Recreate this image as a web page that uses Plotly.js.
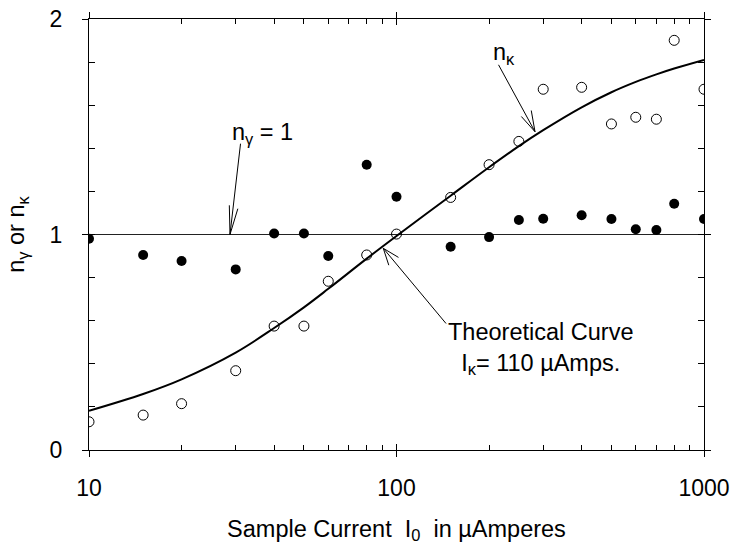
<!DOCTYPE html>
<html>
<head>
<meta charset="utf-8">
<script src="https://cdn.plot.ly/plotly-3.0.1.min.js"></script>
<style>html,body{margin:0;padding:0;background:#fff;}#chart{width:731px;height:549px;}</style>
</head>
<body>
<div id="chart"></div>
<script>
// Sample current (µA)
const sampleCurrent = [10, 15, 20, 30, 40, 50, 60, 80, 100, 150, 200, 250, 300, 400, 500, 600, 700, 800, 1000];
// n_gamma measurements (filled circles)
const nGamma = [0.98, 0.905, 0.877, 0.838, 1.005, 1.005, 0.90, 1.324, 1.175, 0.943, 0.988, 1.067, 1.073, 1.089, 1.072, 1.024, 1.021, 1.143, 1.072];
// n_kappa measurements (open circles)
const nKappa = [0.131, 0.162, 0.215, 0.368, 0.575, 0.575, 0.783, 0.905, 1.002, 1.172, 1.324, 1.432, 1.674, 1.683, 1.513, 1.544, 1.535, 1.901, 1.674];
// Theoretical curve
const curveI = [10, 15, 20, 30, 40, 50, 60, 80, 100, 150, 200, 250, 300, 400, 500, 600, 700, 800, 1000];
const curveN = [0.182, 0.26, 0.328, 0.452, 0.566, 0.662, 0.748, 0.888, 0.993, 1.18, 1.312, 1.41, 1.484, 1.59, 1.66, 1.708, 1.743, 1.77, 1.81];
// n_gamma = 1 reference line
const refI = [10, 1000];
const refN = [1, 1];
// ticks
const xMajorTicks = [10, 100, 1000];
const xMajorLabels = ['10', '100', '1000'];
const xMinorTicks = [20, 30, 40, 50, 60, 70, 80, 90, 200, 300, 400, 500, 600, 700, 800, 900];
const yMajorTicks = [0, 1, 2];
const yMajorLabels = ['0', '1', '2'];
const yMinorTicks = [0.2, 0.4, 0.6, 0.8, 1.2, 1.4, 1.6, 1.8];

const FONT = 'Liberation Sans, Arial, Helvetica, sans-serif';
const TXT = 23.5;

const traces = [
  {x: refI, y: refN, mode: 'lines', line: {color: '#222', width: 1}, hoverinfo: 'skip', showlegend: false},
  {x: curveI, y: curveN, mode: 'lines', line: {color: '#000', width: 2, shape: 'spline', smoothing: 1}, showlegend: false},
  {x: sampleCurrent, y: nGamma, mode: 'markers', marker: {symbol: 'circle', size: 10, color: '#000'}, showlegend: false},
  {x: sampleCurrent, y: nKappa, mode: 'markers', marker: {symbol: 'circle-open', size: 10, color: '#000', line: {width: 1, color: '#000'}}, showlegend: false},
  {x: [], y: [], xaxis: 'x2', yaxis: 'y2', showlegend: false}
];

function arrowAnn(x, y, ax, ay) {
  return {x: x, y: y, ax: ax, ay: ay, text: '', showarrow: true, arrowhead: 0, arrowwidth: 1, arrowcolor: '#000', standoff: 0, startstandoff: 0};
}

const annotations = [
  {x: 1.565, y: 1.47, text: 'n<sub>γ</sub> = 1', showarrow: false, xanchor: 'center', yanchor: 'middle', font: {family: FONT, size: TXT, color: '#000'}},
  {x: 2.3496, y: 1.838, text: 'n<sub>κ</sub>', showarrow: false, xanchor: 'center', yanchor: 'middle', font: {family: FONT, size: TXT, color: '#000'}},
  {x: 2.4667, y: 0.47, text: 'Theoretical Curve<br>I<sub>κ</sub>= 110 µAmps.', showarrow: false, xanchor: 'center', yanchor: 'middle', align: 'center', font: {family: FONT, size: TXT, color: '#000'}},
  arrowAnn(1.4585, 1.0, 10.7, -92.3),
  arrowAnn(1.4585, 1.0, -0.7, -30.7),
  arrowAnn(1.4585, 1.0, 8.3, -27.3),
  arrowAnn(2.4504, 1.477, -37.3, -68.4),
  arrowAnn(2.4504, 1.477, -15, -16.7),
  arrowAnn(2.4504, 1.477, -4, -22.7),
  arrowAnn(1.957, 0.936, 64, 76.7),
  arrowAnn(1.957, 0.936, 16.7, 10),
  arrowAnn(1.957, 0.936, 6, 18.4)
];

const layout = {
  width: 731, height: 549,
  margin: {l: 89, r: 27, t: 19, b: 99},
  paper_bgcolor: '#fff', plot_bgcolor: '#fff',
  font: {family: FONT, size: 23, color: '#000'},
  showlegend: false,
  xaxis: {
    type: 'log', range: [1, 3], tickmode: 'array', tickvals: xMajorTicks, ticktext: xMajorLabels,
    ticks: 'outside', ticklen: 6, tickwidth: 1, tickcolor: '#000',
    showline: true, linecolor: '#000', linewidth: 1, mirror: 'ticks',
    showgrid: false, zeroline: false, ticklabelstandoff: 11,
    tickfont: {family: FONT, size: 23, color: '#000'},
    minor: {tickmode: 'array', tickvals: xMinorTicks, ticks: 'inside', ticklen: 5, tickwidth: 1, tickcolor: '#000', showgrid: false},
    title: {text: 'Sample Current \u00a0I<sub>0</sub> \u00a0in µAmperes', font: {family: FONT, size: TXT, color: '#000'}, standoff: 20},
    automargin: false
  },
  yaxis: {
    range: [0, 2], tickmode: 'array', tickvals: yMajorTicks, ticktext: yMajorLabels,
    ticks: 'outside', ticklen: 6, tickwidth: 1, tickcolor: '#000',
    showline: true, linecolor: '#000', linewidth: 1, mirror: 'ticks',
    showgrid: false, zeroline: false, ticklabelstandoff: 15,
    tickfont: {family: FONT, size: 23, color: '#000'},
    minor: {tickmode: 'array', tickvals: yMinorTicks, ticks: 'inside', ticklen: 6, tickwidth: 1, tickcolor: '#000', showgrid: false},
    title: {text: 'n<sub>γ</sub> or n<sub>κ</sub>', font: {family: FONT, size: TXT, color: '#000'}, standoff: 18},
    automargin: false
  },
  xaxis2: {
    type: 'log', range: [1, 3], overlaying: 'x', matches: 'x', tickmode: 'array', tickvals: xMajorTicks,
    ticks: 'inside', ticklen: 6, tickwidth: 1, tickcolor: '#000', showticklabels: false,
    showline: true, linecolor: '#000', linewidth: 1, mirror: 'ticks', showgrid: false, zeroline: false
  },
  yaxis2: {
    range: [0, 2], overlaying: 'y', matches: 'y', tickmode: 'array', tickvals: yMajorTicks,
    ticks: 'inside', ticklen: 6, tickwidth: 1, tickcolor: '#000', showticklabels: false,
    showline: true, linecolor: '#000', linewidth: 1, mirror: 'ticks', showgrid: false, zeroline: false
  },
  annotations: annotations
};

Plotly.newPlot('chart', traces, layout, {staticPlot: true, displayModeBar: false});
</script>
</body>
</html>
